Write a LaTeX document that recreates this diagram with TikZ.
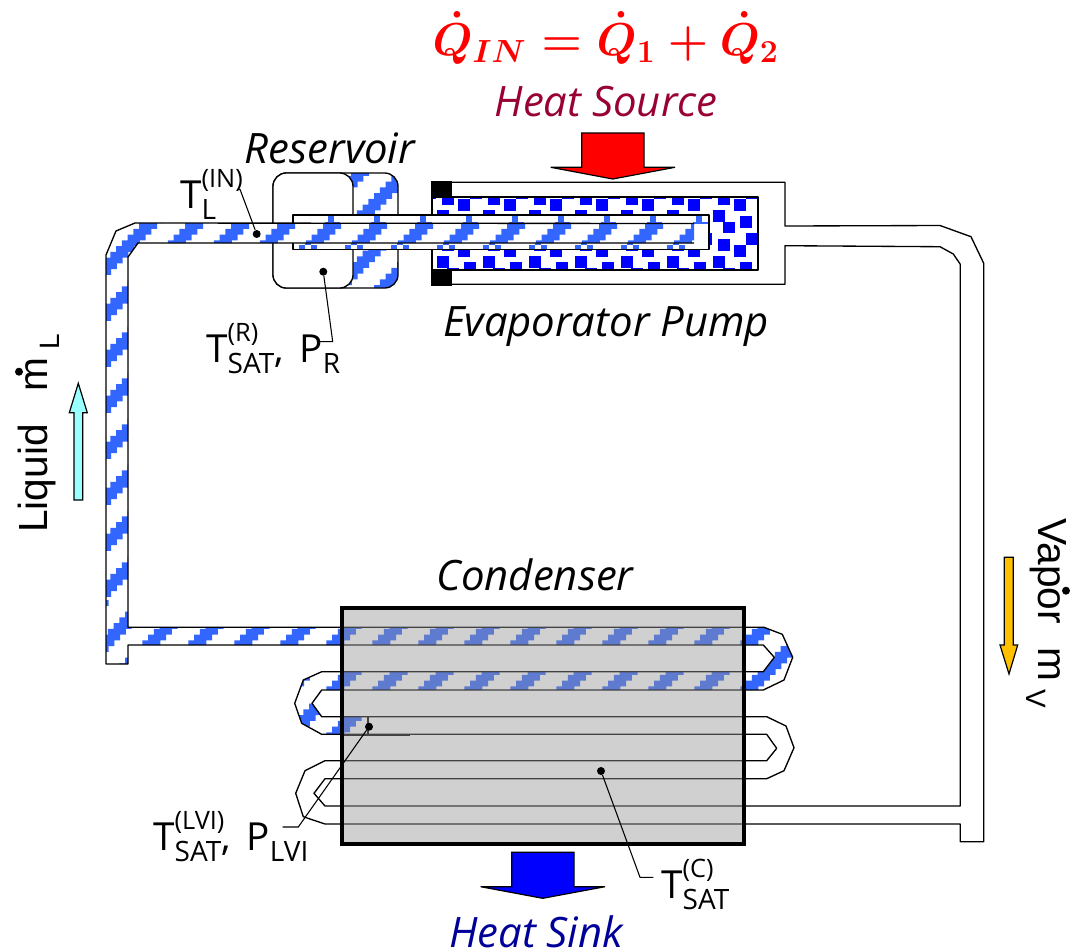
\documentclass[tikz,border=0pt]{standalone}
\usepackage{fontspec}
\setmainfont{Open Sans}
\newfontfamily\flowfont{Liberation Sans}
\usepackage{amsmath}
\usetikzlibrary{positioning}

\definecolor{pipeblue}{RGB}{51,102,255}
\definecolor{dotblue}{RGB}{0,0,255}
\definecolor{sourcered}{RGB}{153,0,51}
\definecolor{sinkblue}{RGB}{0,0,153}

% the stepped stripes of the liquid, 46 wide
\newcommand{\stairtiles}[4]{%
  \foreach \i in {0,...,#3} \foreach \j in {0,...,#4}
    \fill[pipeblue] foreach \n in {0,...,7} {(#1+\i*46-\n*5.75,#2+\j*46+\n*5.75) rectangle ++(18,5.75)};
}
% small index below the line, and T with upper and lower index
\newcommand{\lowidx}[1]{\raisebox{-.29em}{\fontsize{21}{21}\selectfont #1}}
\newcommand{\tvar}[3]{#1\rlap{\raisebox{.52em}{\fontsize{19}{19}\selectfont #2}}\lowidx{#3}}

\begin{document}
\begin{tikzpicture}[x=0.75pt,y=-0.75pt,
  pipeline/.style={line width=1pt,line join=round},
  probe/.style={circle,fill=black,inner sep=0pt,minimum size=6pt},
  leader/.style={line width=.8pt},
  bigtext/.style={font=\fontsize{31.4}{34}\selectfont\itshape,inner sep=0pt},
  vartext/.style={font=\fontsize{29}{32}\selectfont,inner sep=0pt,anchor=base west},
  flowtext/.style={font=\fontsize{30.5}{32}\flowfont\selectfont,inner sep=0pt,anchor=base west},
  flowarrow/.style={draw=black,line width=.9pt,line join=miter}
]
\useasboundingbox (0,0) rectangle (1071,951);

% the reservoir
\begin{scope}
  \clip[rounded corners=10pt] (273,173) rectangle (398,288);
  \stairtiles{351}{170}{2}{2}
\end{scope}
\draw[pipeline,rounded corners=10pt] (273,173) rectangle (398,288);
\draw[pipeline,fill=white,rounded corners=10pt] (273,173) rectangle (353,288);

% the evaporator wick
\begin{scope}
  \clip (432,197) rectangle (758,270);
  \foreach \i in {0,...,7} \foreach \j in {0,1,2} {
    \begin{scope}[shift={(391.3+\i*46,151.7+\j*46)}]
      \fill[dotblue] (5,41.7) rectangle ++(11.5,11.5);
      \fill[dotblue] (20.7,1.3) rectangle ++(11.5,11.5);
      \fill[dotblue] (0,12.3) rectangle ++(11.5,11.5);
      \fill[dotblue] (26.7,18.3) rectangle ++(11.5,11.5);
      \fill[dotblue] (10,24) rectangle ++(11.5,11.5);
      \fill[dotblue] (32.7,35.7) rectangle ++(11.5,11.5);
    \end{scope}
  }
\end{scope}
\draw[pipeline] (432,197) rectangle (758,270);
\fill (431,181) rectangle (452,198);
\fill (431,270) rectangle (452,285.5);

% the sleeve round the inlet
\draw[pipeline,fill=white] (293,215) rectangle (709,249.3);
\foreach \k in {-3,...,5} {
  \fill[pipeblue] (466+\k*46,216) rectangle ++(6,6);
  \fill[pipeblue] (463.3+\k*46,222) rectangle ++(15,2);
}
\foreach \k in {-3,...,5} {
  \fill[pipeblue] (437.3+\k*46,245) rectangle ++(6,4);
  \fill[pipeblue] (449+\k*46,245) rectangle ++(6,4);
  \fill[pipeblue] (443.3+\k*46,243) rectangle ++(5.7,2);
}

% the liquid
\begin{scope}
  \fill[white] (106,600) -- (106,255) -- (116,231) -- (135,223) -- (694,223.5) -- (694,243) -- (138,243) -- (128,257) -- (128,600) -- cycle;
  \clip (106,600) -- (106,255) -- (116,231) -- (135,223) -- (694,223.5) -- (694,243) -- (138,243) -- (128,257) -- (128,600) -- cycle;
  \stairtiles{70}{200}{14}{9}
\end{scope}
\begin{scope}
  \clip (106,600) -- (106,664) -- (128,664) -- (128,645) -- (763.3,645) -- (774.3,657.3) -- (763.3,671.7) -- (321.7,671.7) -- (303.3,680) -- (294.7,703.3) -- (301.7,723.3) -- (321.7,734.3) -- (368,734.3) -- (368,716.7) -- (321.7,716.7) -- (312,703.3) -- (321.7,690) -- (763.3,690) -- (784,680) -- (792.7,657.3) -- (782.3,634.3) -- (764,627.3) -- (128,627.3) -- (128,600) -- cycle;
  \stairtiles{90.6}{600}{16}{3}
\end{scope}

% the two walls of the loop
\draw[pipeline] (694,223.5) -- (135,223) -- (116,231) -- (106,255) -- (106,664) -- (128,664) -- (128,645) -- (763.3,645) -- (774.3,657.3) -- (763.3,671.7) -- (321.7,671.7) -- (303.3,680) -- (294.7,703.3) -- (301.7,723.3) -- (321.7,734.3) -- (766.7,734.3) -- (776.7,748.3) -- (766.7,760.7) -- (325,760.7) -- (305,770.7) -- (295.7,793.3) -- (303.3,816.7) -- (325,824) -- (960.3,824) -- (960.3,841.7) -- (983.7,841.7) -- (983.7,263.3) -- (971,236.7) -- (940,225.5) -- (785,226) -- (785,182.3) -- (451,182.3);
\draw[pipeline] (694,243) -- (138,243) -- (128,257) -- (128,627.3) -- (764,627.3) -- (782.3,634.3) -- (792.7,657.3) -- (784,680) -- (763.3,690) -- (321.7,690) -- (312,703.3) -- (321.7,716.7) -- (766.7,716.7) -- (786,726) -- (794,747.7) -- (784,770.7) -- (766.7,778.7) -- (325,778.7) -- (314,793.3) -- (325,806) -- (960.3,806) -- (960.3,264.3) -- (953.3,254) -- (940,246.7) -- (785,245.7) -- (785,284.3) -- (451,284.3);
\draw[pipeline] (368,716.7) -- (368,734.3);
\draw[pipeline] (344,735.5) -- (410,735.5);

% the condenser
\fill[black!41,fill opacity=.45] (342,608) rectangle (744,844);
\draw[line width=3pt] (342,608) rectangle (744,844);

% heat in and out
\draw[flowarrow,fill=red] (581.7,133) -- (644,133) -- (644,167.3) -- (675,167.3) -- (612.7,179) -- (550.7,167.3) -- (581.7,167.3) -- cycle;
\draw[flowarrow,fill=dotblue] (511.7,852.3) -- (574,852.3) -- (574,886.7) -- (605,886.7) -- (542.7,898.3) -- (480.7,886.7) -- (511.7,886.7) -- cycle;
\draw[flowarrow,fill={rgb,255:red,153;green,255;blue,255}] (74,500) -- (82.7,500) -- (82.7,412.7) -- (87.3,412.7) -- (78.3,383.3) -- (69.3,412.7) -- (74,412.7) -- cycle;
\draw[flowarrow,fill={rgb,255:red,255;green,192;blue,0}] (1004.3,557.3) -- (1013.3,557.3) -- (1013.3,645) -- (1017.7,645) -- (1009,674) -- (1000,645) -- (1004.3,645) -- cycle;

% labels
\node[scale=2,text=red] (qin) at (606,38) {{\LARGE\boldmath$\dot{Q}_{IN}=\dot{Q}_{1}+\dot{Q}_{2}$}};
\node[bigtext,text=sourcered] (source) at (606,102) {Heat Source};
\node[bigtext] (reservoir) at (330,148) {Reservoir};
\node[bigtext] (evaporator) at (606,327) {Evaporator Pump};
\node[bigtext] (condenser) at (535,575) {Condenser};
\node[bigtext,text=sinkblue] (sink) at (536,932) {Heat Sink};

\node[vartext] (tin) at (180,208) {\tvar{T}{(IN)}{L}};
\node[vartext] (tres) at (206,362) {\tvar{T}{(R)}{SAT},\hspace{.15em} P\lowidx{R}};
\node[vartext] (tlvi) at (153,850) {\tvar{T}{(LVI)}{SAT},\hspace{.15em} P\lowidx{LVI}};
\node[vartext] (tcon) at (661,898) {\tvar{T}{(C)}{SAT}};
\node[flowtext,rotate=90] (liquid) at (47.7,533) {Liquid\hspace{.8em}m\hspace{.2em}\lowidx{L}};
\node[flowtext,rotate=-90] (vapor) at (1038,518) {Vapor\hspace{.58em}m\hspace{.2em}\lowidx{V}};

% the points and their leaders
\node[probe] (pin) at (256.7,234) {};
\node[probe] (pres) at (323.3,271.7) {};
\node[probe] (plvi) at (369,726.7) {};
\node[probe] (pcon) at (601,771) {};
\node[probe] (mdotl) at (19,371.7) {};
\node[probe] (mdotv) at (1066,590.7) {};
\coordinate (kin) at (240,189.3);
\coordinate (kres) at (332.7,341.7);
\coordinate (klvi) at (298.3,827);
\coordinate (kcon) at (640,877.3);
\draw[leader] (pin) -- (kin) -- ++(-3,0);
\draw[leader] (pres) -- (kres) -- ++(-12.7,0);
\draw[leader] (plvi) -- (klvi) -- ++(-15.6,0);
\draw[leader] (pcon) -- (kcon) -- ++(13.3,0);

\end{tikzpicture}
\end{document}
